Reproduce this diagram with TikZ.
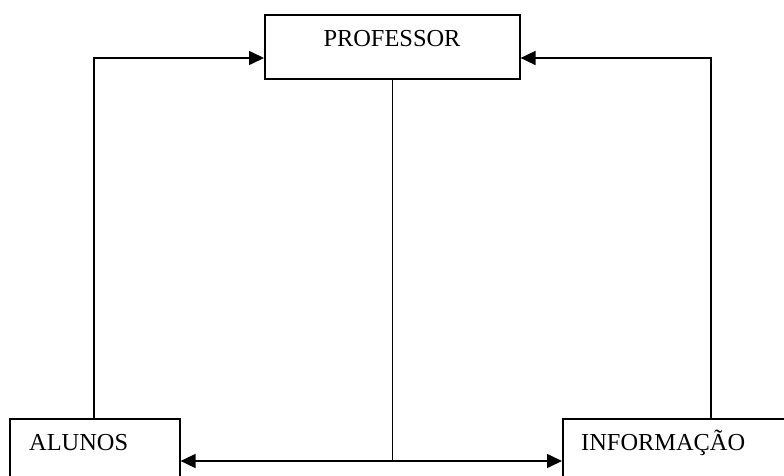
\documentclass[tikz,border=0pt]{standalone}
\usepackage{fontspec}
\setmainfont{Liberation Serif}
\usetikzlibrary{arrows.meta}
\begin{document}
\begin{tikzpicture}[x=1pt,y=-1pt,
  box/.style={draw,line width=1.6pt,inner sep=0pt,anchor=north west},
  lbl/.style={inner sep=0pt,font=\fontsize{24.4}{29}\selectfont},
  conn/.style={line width=1.6pt},
  arr/.style={conn,-{Triangle[length=15pt,width=14pt]}},
  darr/.style={conn,{Triangle[length=15pt,width=14pt]}-{Triangle[length=15pt,width=14pt]}}]
\useasboundingbox (0,0) rectangle (784,476);
\clip (0,0) rectangle (784,476);
\fill[white] (0,0) rectangle (784,476);
\node[box,minimum width=255pt,minimum height=64pt] (prof) at (264,14) {};
\node[box,minimum width=170pt,minimum height=90pt] (alunos) at (9,418) {};
\node[box,minimum width=240pt,minimum height=90pt] (info) at (562,418) {};
\node[lbl,anchor=base] (tprof) at (392,47) {PROFESSOR};
\node[lbl,anchor=base west] (talunos) at (29,450) {ALUNOS};
\node[lbl,anchor=base west] (tinfo) at (581,450) {INFORMAÇÃO};
\coordinate (lx) at (94,0);
\coordinate (rx) at (711,0);
\coordinate (ty) at (0,58);
\coordinate (by) at (0,461);
\draw[arr] (lx |- alunos.north) |- (prof.west |- ty);
\draw[arr] (rx |- info.north) |- (prof.east |- ty);
\draw[conn] (prof.south) -- (prof.south |- by);
\draw[darr] (alunos.east |- by) -- (info.west |- by);
\end{tikzpicture}
\end{document}
